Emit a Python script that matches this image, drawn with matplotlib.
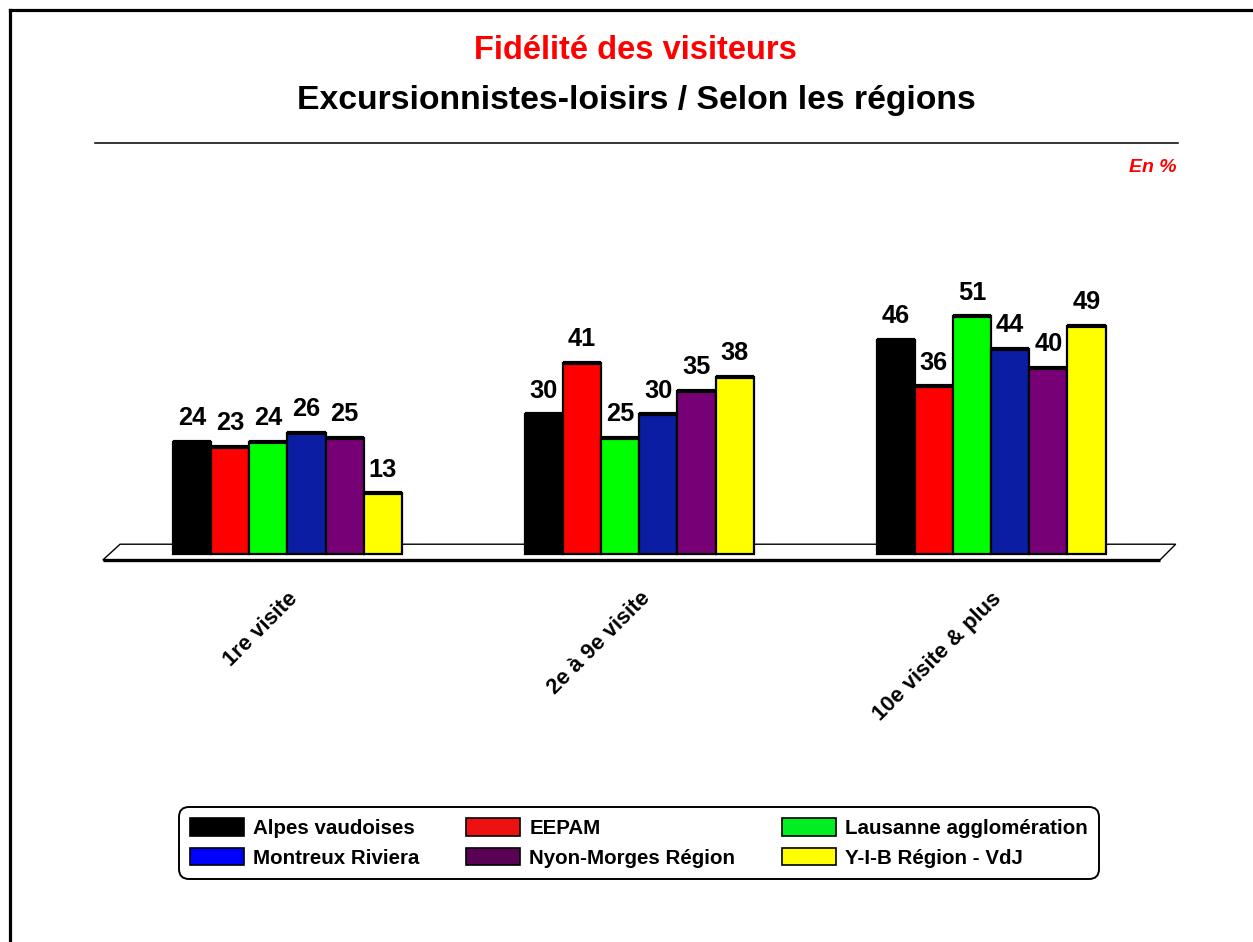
import matplotlib
matplotlib.use("Agg")
import matplotlib.pyplot as plt
from matplotlib import font_manager as fm
from matplotlib.patches import Patch, Polygon
from matplotlib.lines import Line2D
import numpy as np

# data
categories = ["1re visite", "2e à 9e visite", "10e visite & plus"]
regions = ["Alpes vaudoises", "EEPAM", "Lausanne agglomération",
           "Montreux Riviera", "Nyon-Morges Région", "Y-I-B Région - VdJ"]
values = {
    "Alpes vaudoises":        [24, 30, 46],
    "EEPAM":                  [23, 41, 36],
    "Lausanne agglomération": [24, 25, 51],
    "Montreux Riviera":       [26, 30, 44],
    "Nyon-Morges Région":     [25, 35, 40],
    "Y-I-B Région - VdJ":     [13, 38, 49],
}
bar_colors = ["#000000", "#FF0000", "#00FF00", "#0B1DA3", "#770077", "#FFFF00"]
legend_colors = ["#000000", "#EE1111", "#00EE22", "#0000FF", "#5A0055", "#FFFF00"]


def has_font(name):
    try:
        fm.findfont(fm.FontProperties(family=name), fallback_to_default=False)
        return True
    except ValueError:
        return False


# the original uses a condensed Arial; use the narrow face if it exists
if has_font("Liberation Sans Narrow"):
    NARROW = ["Liberation Sans Narrow", "Liberation Sans", "DejaVu Sans"]
    sz = dict(sub=28.5, val=20, cat=18, leg=17.4, unit=16)
else:
    NARROW = ["Liberation Sans", "DejaVu Sans"]
    sz = dict(sub=24.3, val=18.3, cat=15.8, leg=14.8, unit=14)
WIDE = ["Liberation Sans", "DejaVu Sans"]
plt.rcParams["font.family"] = NARROW

fig = plt.figure(figsize=(12.53, 9.42), dpi=100)
W, H = 1253, 942

# page frame (left and top only)
fig.add_artist(Line2D([10 / W, 10 / W], [0, 1 - 10 / H], color="black", lw=2.3))
fig.add_artist(Line2D([10 / W, 1], [1 - 10 / H, 1 - 10 / H], color="black", lw=2.3))

fig.text(0.507, 1 - 59 / H, "Fidélité des visiteurs", color="#FF0000",
         fontsize=23.5, fontweight="bold", family=WIDE, ha="center", va="baseline")
fig.text(0.508, 1 - 109 / H, "Excursionnistes-loisirs / Selon les régions",
         color="black", fontsize=sz["sub"], fontweight="bold", ha="center", va="baseline")
fig.add_artist(Line2D([95 / W, 1178 / W], [1 - 143 / H, 1 - 143 / H], color="black", lw=1.1))
fig.text(1177 / W, 1 - 172 / H, "En %", color="#FF0000", fontsize=sz["unit"],
         fontweight="bold", style="italic", ha="right", va="baseline")

ax = fig.add_axes([94 / W, 1 - 600.6 / H, 1090.5 / W, 349.5 / H])
ax.set_xlim(-0.55, 2.55)
ax.set_ylim(-10, 65)
ax.axis("off")

# floor of the pseudo-3D plot
floor = Polygon([(-0.525, -1.3), (2.48, -1.3), (2.525, 2.1), (-0.476, 2.1)],
                closed=True, facecolor="white", edgecolor="black", lw=1.0, zorder=1)
ax.add_patch(floor)
ax.plot([-0.525, 2.48], [-1.3, -1.3], color="black", lw=2.4, zorder=1.5,
        solid_capstyle="butt")

x = np.arange(len(categories))
w = 0.1085
for j, reg in enumerate(regions):
    xs = x + (j - 2.5) * w
    vals = values[reg]
    ax.bar(xs, vals, width=w, color=bar_colors[j], edgecolor="black",
           linewidth=1.6, zorder=3)
    ax.hlines(vals, xs - w / 2, xs + w / 2, color="black", lw=3.0, zorder=4)
    for xi, v in zip(xs, vals):
        ax.annotate(str(v), (xi, v), xytext=(0, 12), textcoords="offset points",
                    ha="center", va="baseline", fontsize=sz["val"], fontweight="bold",
                    zorder=5)

for i, cat in enumerate(categories):
    ax.text(x[i], -7.3, cat, rotation=45, rotation_mode="anchor", ha="right",
            va="top", fontsize=sz["cat"], fontweight="bold")

# legend, filled column-wise -> reorder so rows read left to right
order = [0, 3, 1, 4, 2, 5]
handles = [Patch(facecolor=legend_colors[i], edgecolor="black", lw=1.2) for i in order]
labels = [regions[i] for i in order]
leg = fig.legend(handles, labels, ncol=3, loc="center",
                 bbox_to_anchor=(639 / W, 1 - 843 / H),
                 prop=fm.FontProperties(family=NARROW, weight="bold", size=sz["leg"]),
                 handlelength=2.6, handleheight=0.95, handletextpad=0.45,
                 labelspacing=0.45, columnspacing=2.3, borderpad=0.55,
                 borderaxespad=0, fancybox=True, framealpha=1, edgecolor="black")
leg.get_frame().set_linewidth(1.4)
leg.get_frame().set_boxstyle("round,pad=0,rounding_size=0.5")

fig.savefig("out.png", dpi=100, facecolor="white")
